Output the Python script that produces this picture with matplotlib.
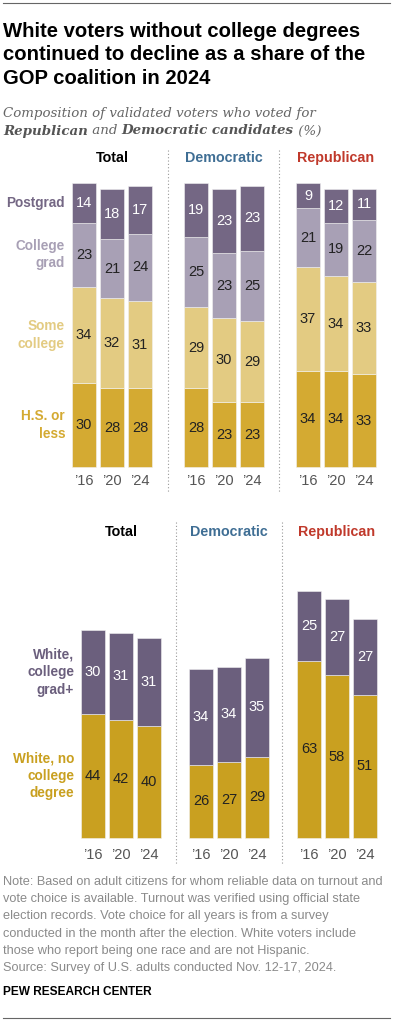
import matplotlib
matplotlib.use("Agg")
import matplotlib.pyplot as plt
from matplotlib.lines import Line2D

# ---------------- data ----------------
years = ["\u201916", "\u201920", "\u201924"]
groups = ["Total", "Democratic", "Republican"]

edu_categories = ["H.S. or\nless", "Some\ncollege", "College\ngrad", "Postgrad"]
edu_total = [[30, 28, 28], [34, 32, 31], [23, 21, 24], [14, 18, 17]]
edu_dem = [[28, 23, 23], [29, 30, 29], [25, 23, 25], [19, 23, 23]]
edu_rep = [[34, 34, 33], [37, 34, 33], [21, 19, 22], [9, 12, 11]]

white_categories = ["White, no\ncollege\ndegree", "White,\ncollege\ngrad+"]
white_total = [[44, 42, 40], [30, 31, 31]]
white_dem = [[26, 27, 29], [34, 34, 35]]
white_rep = [[63, 58, 51], [25, 27, 27]]

# ---------------- style ----------------
edu_colors = ["#D4AA32", "#E3CB82", "#A8A0B5", "#746784"]
edu_text = ["#222222", "#222222", "#222222", "#FFFFFF"]
white_colors = ["#C9A020", "#6B5F7D"]
white_text = ["#222222", "#FFFFFF"]
group_colors = ["#000000", "#3F6E94", "#C0392B"]

W, H = 393, 1024
fig = plt.figure(figsize=(W / 100, H / 100), dpi=100)
SCALE = 2.81  # px per percentage point
SANS = "Liberation Sans"


def add_ax(left, base, width, height):
    return fig.add_axes([left / W, 1 - base / H, width / W, height / H])


def fx(x):
    return x / W


def fy(y):
    return 1 - y / H


def draw_panel(data_sets, colors, tcolors, cats, lefts, base, header_y, seps, sep_span,
               label_x, year_y):
    step = 28
    for g, (data, left) in enumerate(zip(data_sets, lefts)):
        ax = add_ax(left, base, 3 * step, 110 * SCALE)
        ax.set_xlim(-0.5, 2.5)
        ax.set_ylim(0, 110)
        ax.axis("off")
        bottoms = [0, 0, 0]
        for s, vals in enumerate(data):
            ax.bar(range(3), vals, bottom=bottoms, width=0.83, color=colors[s],
                   edgecolor="#F2F2F2", linewidth=0.4, clip_on=False)
            for i, v in enumerate(vals):
                ax.text(i, bottoms[i] + v / 2, str(v), ha="center", va="center",
                        fontsize=10.5, color=tcolors[s], family=SANS)
            if g == 0:
                ycen = ax.transData.transform((0, bottoms[0] + vals[0] / 2))[1] / H
                fig.text(fx(label_x), ycen, cats[s], ha="right", va="center",
                         fontsize=9.8, fontweight="bold", color=colors[s],
                         family=SANS, linespacing=1.3)
            bottoms = [b + v for b, v in zip(bottoms, vals)]
        for i, y in enumerate(years):
            fig.text(ax.transData.transform((i, 0))[0] / W, fy(year_y), y,
                     ha="center", va="center", fontsize=10.5, color="#555555", family=SANS)
        cx = (left + 1.5 * step) / W
        fig.text(cx, fy(header_y), groups[g], ha="center", va="center", fontsize=10.3,
                 fontweight="bold", color=group_colors[g], family=SANS)
    for sx in seps:
        fig.add_artist(Line2D([fx(sx), fx(sx)], [fy(sep_span[0]), fy(sep_span[1])],
                              color="#999999", linewidth=0.8, linestyle=(0, (1, 2))))


# rules
fig.add_artist(Line2D([fx(3), fx(390)], [fy(3), fy(3)], color="#666666", linewidth=0.8))
fig.add_artist(Line2D([fx(3), fx(390)], [fy(1018), fy(1018)], color="#666666", linewidth=0.8))

# title
fig.text(fx(3), fy(22), "White voters without college degrees\ncontinued to decline as a share of the\nGOP coalition in 2024",
         ha="left", va="top", fontsize=14.6, fontweight="bold", family=SANS,
         linespacing=1.3, color="#000000")

# subtitle with mixed styles
SERIF = "DejaVu Serif"
sub_col = "#666666"
fig.text(fx(3), fy(113), "Composition of validated voters who voted for", ha="left",
         va="center", fontsize=9.6, style="italic", family=SERIF, color=sub_col)
renderer = fig.canvas.get_renderer()
pieces = [("Republican", "bold"), (" and ", "normal"), ("Democratic candidates", "bold"),
          (" (%)", "normal")]
x = fx(3)
for txt, wt in pieces:
    t = fig.text(x, fy(131), txt, ha="left", va="center", fontsize=9.6, style="italic",
                 fontweight=wt, family=SERIF, color="#555555" if wt == "bold" else sub_col)
    bb = t.get_window_extent(renderer)
    x = bb.x1 / W

# top panel
draw_panel([edu_total, edu_dem, edu_rep], edu_colors, edu_text, edu_categories,
           [70, 182, 294], 467, 158, [168, 279], (150, 492), 65, 481)

# bottom panel
draw_panel([white_total, white_dem, white_rep], white_colors, white_text, white_categories,
           [79, 187, 295], 838, 532, [176, 282], (522, 864), 74, 855)

note_lines = ["Note: Based on adult citizens for whom reliable data on turnout and",
              "vote choice is available. Turnout was verified using official state",
              "election records. Vote choice for all years is from a survey",
              "conducted in the month after the election. White voters include",
              "those who report being one race and are not Hispanic.",
              "Source: Survey of U.S. adults conducted Nov. 12-17, 2024."]
# fit first line to ~382 px width
probe = fig.text(0, 0, note_lines[0], fontsize=10, family=SANS)
wpx = probe.get_window_extent(renderer).width
probe.remove()
note_fs = 10 * 381 / wpx
for k, line in enumerate(note_lines):
    fig.text(fx(3), fy(882 + 17.2 * k), line, ha="left", va="center", fontsize=note_fs,
             color="#8A8A8A", family=SANS)
fig.text(fx(3), fy(992), "PEW RESEARCH CENTER", ha="left", va="center", fontsize=8.6,
         fontweight="bold", family=SANS, color="#000000")

fig.savefig("out.png", dpi=100)
